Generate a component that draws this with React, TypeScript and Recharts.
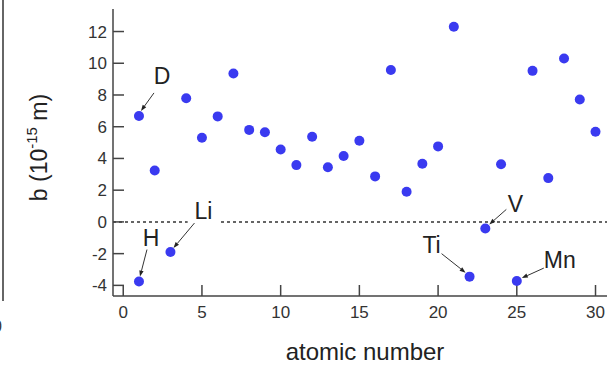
import React from 'react';
import { ScatterChart, Scatter, XAxis, YAxis, ReferenceLine } from 'recharts';

const elements = ['H', 'D', 'He', 'Li', 'Be', 'B', 'C', 'N', 'O', 'F', 'Ne', 'Na', 'Mg', 'Al', 'Si', 'P', 'S', 'Cl', 'Ar', 'K', 'Ca', 'Sc', 'Ti', 'V', 'Cr', 'Mn', 'Fe', 'Co', 'Ni', 'Cu', 'Zn'];
const atomicNumbers = [1, 1, 2, 3, 4, 5, 6, 7, 8, 9, 10, 11, 12, 13, 14, 15, 16, 17, 18, 19, 20, 21, 22, 23, 24, 25, 26, 27, 28, 29, 30];
const scatteringLengths = [-3.76, 6.68, 3.24, -1.9, 7.79, 5.3, 6.65, 9.36, 5.8, 5.65, 4.56, 3.58, 5.37, 3.44, 4.16, 5.12, 2.87, 9.58, 1.9, 3.67, 4.76, 12.3, -3.45, -0.41, 3.63, -3.73, 9.52, 2.76, 10.3, 7.72, 5.68];
const labelledElements = ['D', 'H', 'Li', 'Ti', 'V', 'Mn'];
const xTicks = [0, 5, 10, 15, 20, 25, 30];
const yTicks = [-4, -2, 0, 2, 4, 6, 8, 10, 12];

const points = elements.map((el, i) => ({ el, z: atomicNumbers[i], b: scatteringLengths[i] }));
const labelled = points.filter(p => labelledElements.includes(p.el));

const FONT = '"Liberation Sans", Arial, Helvetica, sans-serif';
const INK = '#333';
const AXIS = '#444';
const DOT = '#3a3af0';

// callout offsets (px) relative to the dot: text centre, arrow tail, arrow head
const CALLOUT: Record<string, { tx: number; ty: number; ax: number; ay: number; hx: number; hy: number }> = {
    D: { tx: 23, ty: -40, ax: 15, ay: -23, hx: 2, hy: -5 },
    H: { tx: 12, ty: -44, ax: 8, ay: -32, hx: 1, hy: -5 },
    Li: { tx: 33, ty: -41, ax: 24, ay: -29, hx: 3, hy: -4 },
    V: { tx: 30, ty: -25, ax: 21, ay: -19, hx: 4, hy: -4 },
    Ti: { tx: -38, ty: -32, ax: -28, ay: -23, hx: -4, hy: -4 },
    Mn: { tx: 43, ty: -21, ax: 27, ay: -13, hx: 5, hy: -3 },
};

const Dot = (props: any) => <circle cx={props.cx} cy={props.cy} r={5} fill={DOT} />;

const Callout = (props: any) => {
    const { cx, cy, payload } = props;
    const c = CALLOUT[payload.el];
    if (!c) return <g />;
    const fs = 23;
    const w = payload.el.length * fs * 0.6 + 4;
    const x1 = cx + c.ax, y1 = cy + c.ay, x2 = cx + c.hx, y2 = cy + c.hy;
    const len = Math.hypot(x2 - x1, y2 - y1);
    const ux = (x2 - x1) / len, uy = (y2 - y1) / len;
    const hl = 6, hw = 2.2;
    const bx = x2 - ux * hl, by = y2 - uy * hl;
    return (
        <g>
            <rect x={cx + c.tx - w / 2} y={cy + c.ty - 11} width={w} height={24} fill="#fff" />
            <text x={cx + c.tx} y={cy + c.ty + fs * 0.36} textAnchor="middle" fontSize={fs} fontFamily={FONT} fill="#222">
                {payload.el}
            </text>
            <line x1={x1} y1={y1} x2={bx} y2={by} stroke="#333" strokeWidth={1} />
            <polygon
                points={`${x2},${y2} ${bx - uy * hw},${by + ux * hw} ${bx + uy * hw},${by - ux * hw}`}
                fill="#222"
            />
        </g>
    );
};

const YTitle = (props: any) => {
    const vb = props.viewBox || { x: 0, y: 0, width: 0, height: 0 };
    const x = vb.x + 47;
    const y = vb.y + vb.height / 2 - 5;
    return (
        <text transform={`rotate(-90, ${x}, ${y})`} x={x} y={y} textAnchor="middle" fontSize={23} fontFamily={FONT} fill="#222">
            b (10<tspan dy={-10} fontSize={15}>-15</tspan><tspan dy={10}> m)</tspan>
        </text>
    );
};

const XTitle = (props: any) => {
    const vb = props.viewBox || { x: 0, y: 0, width: 0, height: 0 };
    return (
        <text x={vb.x + 252} y={vb.y + 64} textAnchor="middle" fontSize={24} fontFamily={FONT} fill="#222">
            atomic number
        </text>
    );
};

export default function App() {
    return (
        <div style={{ position: 'absolute', left: 0, top: 0, width: 607, height: 365, overflow: 'hidden', background: '#fff' }}>
            {/* edge of the neighbouring panel */}
            <div style={{ position: 'absolute', left: 2, top: 0, width: 2, height: 301, background: '#666' }} />
            <div style={{ position: 'absolute', left: -7, top: 318, fontSize: 16, fontFamily: FONT, color: INK }}>0</div>
            <div style={{ position: 'absolute', left: 0, top: 0 }}>
                <ScatterChart width={640} height={365} margin={{ top: 9, right: 13, bottom: 9, left: 0 }}>
                    <XAxis
                        xAxisId="top"
                        orientation="top"
                        type="number"
                        domain={[-0.65, 32]}
                        allowDataOverflow
                        height={0}
                        tick={false}
                        tickLine={false}
                        axisLine={{ stroke: AXIS, strokeWidth: 1.5 }}
                    />
                    <XAxis
                        dataKey="z"
                        type="number"
                        domain={[-0.65, 32]}
                        allowDataOverflow
                        ticks={xTicks}
                        interval={0}
                        height={60}
                        tickSize={-11}
                        tickMargin={21}
                        tick={{ fill: INK, fontSize: 17, fontFamily: FONT }}
                        tickLine={{ stroke: AXIS, strokeWidth: 1.5 }}
                        axisLine={{ stroke: AXIS, strokeWidth: 1.5 }}
                        label={<XTitle />}
                    />
                    <YAxis
                        dataKey="b"
                        type="number"
                        domain={[-4.67, 13.42]}
                        allowDataOverflow
                        ticks={yTicks}
                        interval={0}
                        width={113}
                        tickSize={-11}
                        tickMargin={17}
                        tick={{ fill: INK, fontSize: 17, fontFamily: FONT }}
                        tickLine={{ stroke: AXIS, strokeWidth: 1.5 }}
                        axisLine={{ stroke: AXIS, strokeWidth: 1.5 }}
                        label={<YTitle />}
                    />
                    <ReferenceLine y={0} stroke={INK} strokeWidth={1.5} strokeDasharray="3 3" />
                    <Scatter data={points} shape={Dot} isAnimationActive={false} />
                    <Scatter data={labelled} shape={Callout} isAnimationActive={false} />
                </ScatterChart>
            </div>
        </div>
    );
}
